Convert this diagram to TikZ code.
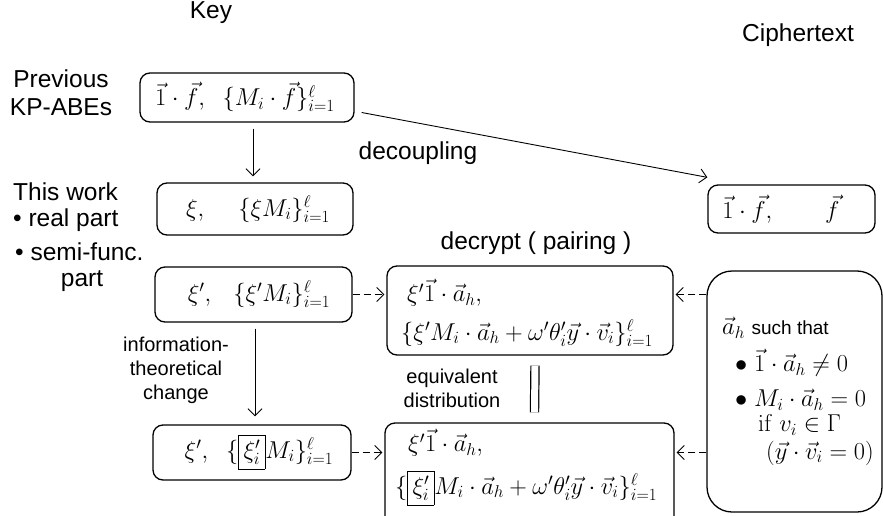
\RequirePackage{fix-cm}
\documentclass[tikz,border=0pt]{standalone}
\usepackage[no-math]{fontspec}
\setmainfont{Liberation Sans}
\usetikzlibrary{arrows.meta}
\newcommand\lblsize{\fontsize{24.5}{28}\selectfont}
\newcommand\smlsize{\fontsize{20}{24}\selectfont}
\newcommand\mthsize{\fontsize{24.4}{28}\selectfont}
\newcommand\tinysize{\fontsize{19}{22}\selectfont}
\setlength\fboxsep{4.5pt}
\setlength\fboxrule{0.6pt}
\begin{document}
\begin{tikzpicture}[x=1pt,y=-1pt,
  box/.style={draw, line width=1.3pt, rounded corners=10pt, inner sep=0pt},
  arr/.style={-{Straight Barb[length=7pt,width=14pt]}, line width=0.9pt},
  darr/.style={arr, dash pattern=on 7pt off 4pt},
  lbl/.style={font=\lblsize, inner sep=0pt},
  sml/.style={font=\smlsize, inner sep=0pt, align=center},
  mth/.style={font=\mthsize, inner sep=0pt}]
\useasboundingbox (0,0) rectangle (883,516);
\clip (0,0) rectangle (883,516);

% labels
\node[lbl] (keyl) at (211,13) {Key};
\node[lbl] (ciphl) at (798,35) {Ciphertext};
\node[lbl, align=center] (prevl) at (61,93) {Previous\\KP-ABEs};
\node[lbl, anchor=west] (thisl) at (13,192) {This work};
\node[lbl, anchor=west] (reall) at (13,220) {• real part};
\node[lbl, anchor=west] (semil) at (15,252) {• semi-func.};
\node[lbl] (partl) at (82,281) {part};

% boxes
\node[box, minimum width=214pt, minimum height=49pt] (prev) at (247,97.5) {};
\node[box, minimum width=196pt, minimum height=52pt] (real) at (255,209) {};
\node[box, minimum width=197pt, minimum height=55pt] (semi) at (253.5,294.5) {};
\node[box, minimum width=198pt, minimum height=55pt] (semi2) at (252,452.5) {};
\node[box, minimum width=167pt, minimum height=48pt] (ciph) at (791.5,209) {};
\node[box, minimum width=286pt, minimum height=89pt] (dec1) at (530,310.5) {};
\node[box, minimum width=289pt, minimum height=107pt] (dec2) at (529.5,476.5) {};
\node[box, rounded corners=25pt, minimum width=175pt, minimum height=241pt] (rbox) at (794.5,391.5) {};

% box contents
\node[mth] (prevt) at (245,97) {$\vec1\cdot\vec f,\ \ \{M_i\cdot\vec f\}_{i=1}^{\ell}$};
\node[mth] (realt) at (258,209) {$\xi,\hspace{30pt}\{\xi M_i\}_{i=1}^{\ell}$};
\node[mth] (semit) at (259,294) {$\xi',\hspace{18pt}\{\xi' M_i\}_{i=1}^{\ell}$};
\node[mth] (semi2t) at (259,452) {$\xi',\hspace{14pt}\{\fbox{$\xi'_i$}M_i\}_{i=1}^{\ell}$};
\node[mth] (cipht) at (781,209) {$\vec1\cdot\vec f,\qquad\vec f$};
\node[mth, anchor=west] (dec1a) at (407,293) {$\xi'\vec1\cdot\vec a_h,$};
\node[mth, anchor=west] (dec1b) at (401,333) {$\{\xi'M_i\cdot\vec a_h+\omega'\theta'_i\vec y\cdot\vec v_i\}_{i=1}^{\ell}$};
\node[mth, anchor=west] (dec2a) at (408,443) {$\xi'\vec1\cdot\vec a_h,$};
\node[mth, anchor=west] (dec2b) at (395,488) {$\{\fbox{$\xi'_i$}M_i\cdot\vec a_h+\omega'\theta'_i\vec y\cdot\vec v_i\}_{i=1}^{\ell}$};
\node[mth, anchor=west] (r1) at (722,328) {$\vec a_h$\ {\tinysize such that}};
\node[mth, anchor=west] (r2) at (735,363) {$\bullet\ \vec1\cdot\vec a_h\neq0$};
\node[mth, anchor=west] (r3) at (735,400) {$\bullet\ M_i\cdot\vec a_h=0$};
\node[mth, anchor=west] (r4) at (758,425) {$\mathrm{if}\ v_i\in\Gamma$};
\node[mth, anchor=west] (r5) at (766,453) {$(\vec y\cdot\vec v_i=0)$};

% connector labels
\node[lbl] (decl) at (418,153) {decoupling};
\node[lbl] (decrl) at (536,243) {decrypt ( pairing )};
\node[sml] (infol) at (176,370) {information-\\theoretical\\change};
\node[sml] (equivl) at (452,388) {equivalent\\distribution};

% connectors
\draw[arr, shorten <=6pt, shorten >=6pt] ([xshift=6pt]prev.south) -- ([xshift=-2pt]real.north);
\draw[arr, shorten <=6pt, shorten >=8pt] ([xshift=1.5pt]semi.south) -- ([xshift=3pt]semi2.north);
\coordinate (decS) at ([xshift=7pt,yshift=-15pt]prev.east);
\coordinate (decE) at ([yshift=7pt]ciph.north west);
\draw[arr] (decS) -- (decE);
\draw[darr, shorten >=2pt] (semi.east) -- (semi.east -| dec1.west);
\draw[darr, shorten >=2pt] (semi2.east) -- (semi2.east -| dec2.west);
\draw[darr, shorten >=2pt] (rbox.west |- semi.east) -- (dec1.east |- semi.east);
\draw[darr, shorten >=2pt] (rbox.west |- semi2.east) -- (dec2.east |- semi2.east);
\coordinate (eqS) at ([xshift=5pt,yshift=-10pt]dec1.south);
\coordinate (eqE) at ([xshift=5pt,yshift=10pt]dec2.north);
\draw[double, double distance=7pt, line width=1.2pt] (eqS) -- (eqE);
\end{tikzpicture}
\end{document}
